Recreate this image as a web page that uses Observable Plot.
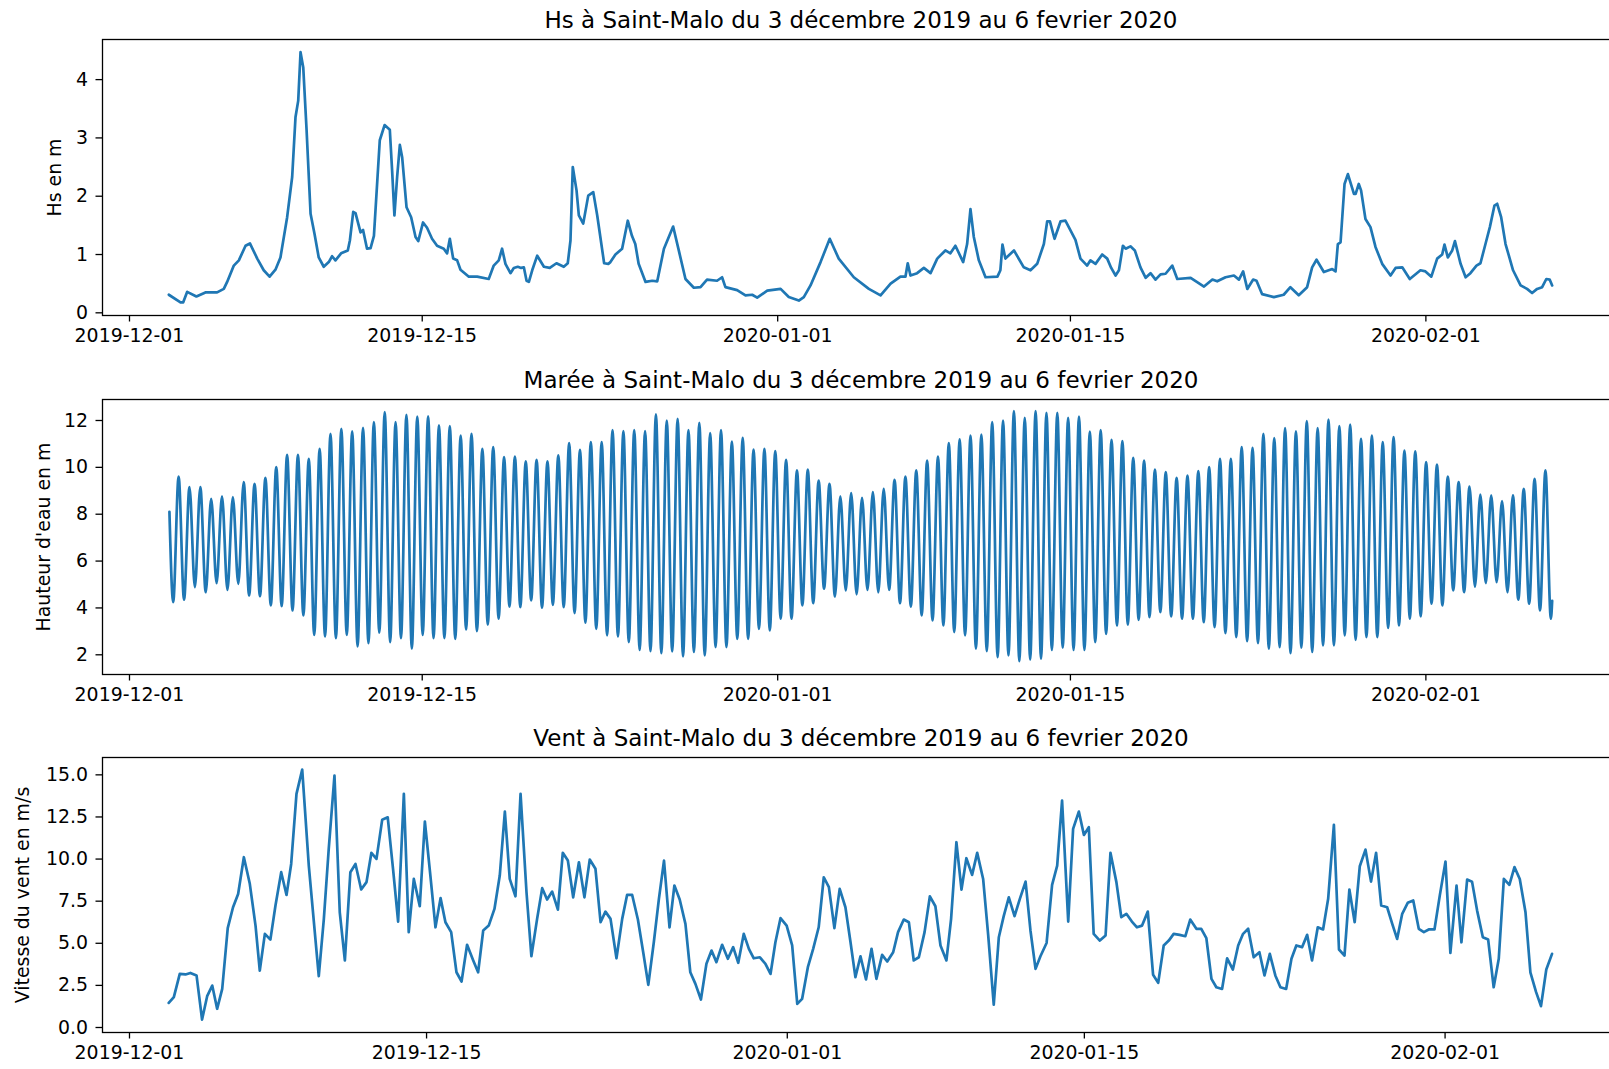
<!DOCTYPE html>
<html>
<head>
<meta charset="utf-8">
<script src="https://cdn.jsdelivr.net/npm/d3@7"></script>
<script src="https://cdn.jsdelivr.net/npm/@observablehq/plot@0.6"></script>
<style>
  html, body { margin: 0; padding: 0; background: #ffffff; overflow: hidden; }
  #root { position: relative; width: 1609px; height: 1069px; overflow: hidden; background: #ffffff; }
  #root > svg { position: absolute; left: 0; max-width: none !important; }
</style>
</head>
<body>
<div id="root"></div>
<script>
// ---------------- DATA (days counted from 2019-12-01 00:00 UTC) ----------------
const titles = [
  "Hs à Saint-Malo du 3 décembre 2019 au 6 fevrier 2020",
  "Marée à Saint-Malo du 3 décembre 2019 au 6 fevrier 2020",
  "Vent à Saint-Malo du 3 décembre 2019 au 6 fevrier 2020"
];
const yLabels = ["Hs en m", "Hauteur d'eau en m", "Vitesse du vent en m/s"];
const xTickLabels = ["2019-12-01", "2019-12-15", "2020-01-01", "2020-01-15", "2020-02-01"];
const hsTicks = [0, 1, 2, 3, 4];
const tideTicks = [2, 4, 6, 8, 10, 12];
const windTicks = [0, 2.5, 5, 7.5, 10, 12.5, 15];

// Significant wave height (m)
const hsDays = [1.88,2.44,2.57,2.76,3.2,3.63,4.19,4.51,4.67,4.99,5.23,5.55,5.76,6.11,6.42,6.70,6.98,7.22,7.54,7.78,7.94,8.07,8.18,8.31,8.47,8.66,8.85,9.05,9.29,9.53,9.69,9.85,10.12,10.44,10.54,10.70,10.81,11.05,11.17,11.36,11.53,11.69,11.97,12.2,12.45,12.56,12.67,12.80,12.93,13.04,13.25,13.47,13.68,13.81,14.04,14.23,14.47,14.71,15.03,15.19,15.32,15.48,15.67,15.83,16.23,16.63,17.18,17.42,17.66,17.82,17.98,18.22,18.38,18.57,18.73,18.86,18.99,19.10,19.26,19.50,19.82,20.10,20.42,20.77,20.96,21.09,21.20,21.38,21.49,21.70,21.94,22.18,22.37,22.70,22.90,23.0,23.24,23.56,23.83,24.03,24.19,24.35,24.68,25.0,25.24,25.56,26.0,26.27,26.59,26.99,27.31,27.62,28.10,28.34,28.5,29.06,29.46,29.78,30.02,30.5,31.14,31.53,32.01,32.25,32.57,33.05,33.49,33.92,34.64,35.36,35.92,36.4,36.87,37.11,37.22,37.35,37.67,37.99,38.31,38.63,39.02,39.26,39.5,39.87,40.06,40.22,40.38,40.62,40.94,41.51,41.65,41.75,41.89,42.3,42.77,43.09,43.41,43.73,43.89,44.02,44.24,44.53,44.76,45.24,45.48,45.8,45.96,46.2,46.52,46.76,46.95,47.16,47.32,47.51,47.64,47.87,48.08,48.35,48.6,48.83,49.07,49.31,49.55,49.87,50.11,50.75,51.39,51.79,52.02,52.42,52.82,53.06,53.26,53.46,53.74,53.9,54.17,54.73,55.2,55.52,55.92,56.32,56.56,56.77,57.12,57.52,57.68,57.79,57.92,58.11,58.27,58.56,58.64,58.79,58.9,59.11,59.35,59.59,59.91,60.31,60.55,60.87,61.23,61.74,61.98,62.26,62.54,62.78,62.89,63.05,63.26,63.39,63.66,63.9,64.13,64.42,64.61,64.85,65.06,65.28,65.41,65.6,65.81,66.17,66.53,66.84,67.08,67.32,67.56,67.76,67.92,68.04];
const hsValues = [0.31,0.18,0.18,0.36,0.28,0.35,0.35,0.41,0.53,0.81,0.90,1.15,1.19,0.93,0.73,0.62,0.74,0.95,1.64,2.33,3.36,3.64,4.47,4.21,3.13,1.70,1.35,0.95,0.79,0.87,0.97,0.90,1.02,1.07,1.24,1.73,1.71,1.38,1.42,1.10,1.11,1.32,2.96,3.22,3.14,2.44,1.67,2.33,2.88,2.67,1.81,1.64,1.30,1.23,1.55,1.46,1.27,1.15,1.10,1.02,1.27,0.93,0.90,0.74,0.62,0.62,0.58,0.81,0.90,1.10,0.84,0.68,0.77,0.79,0.77,0.78,0.55,0.53,0.73,0.98,0.79,0.77,0.85,0.79,0.85,1.24,2.50,2.10,1.67,1.53,2.01,2.07,1.67,0.85,0.84,0.87,1.0,1.10,1.58,1.32,1.18,0.84,0.53,0.55,0.54,1.10,1.48,1.07,0.58,0.43,0.44,0.57,0.55,0.61,0.44,0.39,0.30,0.31,0.26,0.38,0.41,0.27,0.21,0.27,0.47,0.87,1.27,0.93,0.61,0.41,0.30,0.50,0.62,0.62,0.85,0.64,0.68,0.77,0.68,0.93,1.07,1.02,1.15,0.87,1.18,1.78,1.30,0.90,0.61,0.62,0.73,1.17,0.93,1.07,0.78,0.73,0.84,1.18,1.57,1.57,1.27,1.57,1.58,1.25,0.93,0.81,0.90,0.84,1.0,0.93,0.77,0.64,0.73,1.15,1.10,1.14,1.07,0.78,0.60,0.68,0.57,0.66,0.67,0.81,0.58,0.60,0.45,0.57,0.54,0.61,0.64,0.57,0.71,0.41,0.57,0.55,0.32,0.27,0.31,0.44,0.30,0.44,0.78,0.91,0.70,0.75,0.71,1.18,1.21,2.21,2.38,2.04,2.04,2.21,2.10,1.61,1.47,1.13,0.84,0.64,0.77,0.78,0.58,0.73,0.71,0.62,0.93,1.0,1.17,0.95,1.07,1.23,0.84,0.61,0.68,0.81,0.85,1.18,1.47,1.84,1.87,1.64,1.18,0.73,0.47,0.41,0.34,0.41,0.44,0.58,0.57,0.47];

// Tide: successive low waters and high waters (m), alternating low, high, low, ...
const tideStartDay = 1.91, tideStartValue = 8.1;
const tideFirstLowDay = 2.09, tideHalfStepDays = 0.2594;
const tideEndDay = 68.04, tideEndValue = 4.3;
const tideLows = [4.25,4.35,4.89,4.67,5.06,4.77,5.03,4.53,4.50,4.11,4.08,3.89,3.68,2.85,2.78,2.71,2.85,2.36,2.50,2.94,2.54,2.71,2.26,2.85,2.71,2.71,2.68,3.08,3.01,3.29,3.54,4.06,4.03,4.32,4.01,4.13,4.03,3.78,3.37,3.11,2.83,
  2.78,2.54,2.21,2.16,2.07,2.14,1.93,2.12,1.97,2.33,2.33,2.68,2.68,3.11,3.04,3.54,3.54,4.11,4.20,4.82,4.49,4.75,4.58,4.77,4.67,4.77,4.20,4.06,3.68,3.47,3.25,2.97,2.83,2.26,2.16,1.90,1.97,1.73,1.79,1.83,2.21,2.30,2.21,2.21,2.54,2.89,
  3.25,3.29,3.49,3.61,3.82,3.64,3.54,3.54,3.39,3.18,2.92,2.75,2.58,2.50,2.26,2.33,2.07,2.30,2.12,2.40,2.40,2.83,2.64,2.75,2.75,3.15,3.25,3.54,3.64,4.18,4.11,4.75,4.67,4.91,5.06,5.10,4.67,4.35,4.18,3.89,3.54];
const tideHighs = [9.61,9.16,9.16,8.66,8.76,8.73,9.37,9.30,9.55,10.01,10.53,10.53,10.36,10.79,11.43,11.64,11.54,11.69,11.93,12.36,11.93,12.24,12.17,12.18,11.79,11.76,11.36,11.43,10.79,10.86,10.44,10.46,10.26,10.32,10.26,10.51,11.03,10.75,11.08,11.08,
  11.59,11.55,11.59,11.55,12.26,12.00,12.07,11.59,11.90,11.46,11.59,11.10,11.26,10.76,10.79,10.69,10.32,9.87,9.90,9.44,9.30,8.76,8.90,8.70,8.94,9.08,9.47,9.61,9.87,10.29,10.46,11.03,11.19,11.36,11.40,11.93,12.00,12.40,12.11,12.40,12.33,12.33,12.11,12.17,11.53,11.59,11.17,
  11.12,10.41,10.29,9.90,9.80,9.55,9.65,9.84,10.01,10.36,10.36,10.86,10.83,11.43,11.25,11.67,11.54,11.97,11.67,12.04,11.76,11.82,11.22,11.36,11.08,11.29,10.72,10.68,10.22,10.12,9.61,9.37,9.18,8.84,8.80,8.56,8.80,9.08,9.51,9.87];

// Wind speed (m/s)
const windDays = [1.85,2.09,2.37,2.64,2.87,3.16,3.42,3.66,3.90,4.13,4.37,4.63,4.88,5.12,5.39,5.67,5.94,6.14,6.38,6.64,6.88,7.15,7.40,7.62,7.87,8.14,8.45,8.92,9.16,9.39,9.66,9.91,10.15,10.41,10.65,10.92,11.17,11.40,11.64,11.91,12.17,12.42,12.66,12.93,13.16,13.40,13.68,13.92,14.18,14.42,14.66,14.89,15.16,15.41,15.65,15.91,16.20,16.43,16.67,16.93,17.20,17.45,17.69,17.92,18.19,18.43,18.71,18.94,19.21,19.45,19.68,19.92,20.19,20.42,20.66,20.91,21.18,21.44,21.69,21.96,22.20,22.43,22.67,22.95,23.22,23.45,23.69,23.96,24.21,24.45,24.71,24.95,25.19,25.45,25.68,25.93,26.20,26.43,26.67,26.93,27.19,27.43,27.66,27.93,28.20,28.45,28.69,28.95,29.19,29.42,29.71,29.97,30.21,30.44,30.68,30.97,31.23,31.47,31.70,31.97,32.22,32.48,32.72,32.96,33.22,33.47,33.74,33.98,34.21,34.45,34.71,34.97,35.20,35.47,35.71,35.99,36.22,36.49,36.73,36.96,37.20,37.47,37.72,37.98,38.22,38.50,38.72,38.97,39.21,39.44,39.71,39.95,40.23,40.47,40.73,40.97,41.20,41.44,41.71,41.96,42.23,42.46,42.70,42.93,43.22,43.48,43.72,43.95,44.24,44.47,44.74,44.98,45.21,45.44,45.73,46.00,46.23,46.51,46.74,46.98,47.24,47.48,47.72,47.99,48.24,48.48,48.74,48.98,49.21,49.49,49.76,49.99,50.28,50.51,50.75,50.99,51.22,51.49,51.73,52.00,52.25,52.48,52.72,52.98,53.25,53.49,53.74,54.00,54.24,54.51,54.76,54.99,55.26,55.50,55.73,56.00,56.25,56.49,56.76,57.00,57.26,57.49,57.74,57.98,58.25,58.51,58.75,58.99,59.27,59.51,59.74,59.98,60.24,60.50,60.76,61.00,61.23,61.50,61.75,62.02,62.25,62.54,62.77,63.04,63.27,63.51,63.78,64.03,64.29,64.53,64.77,65.03,65.27,65.52,65.79,66.02,66.29,66.52,66.77,67.04];
const windValues = [1.46,1.80,3.18,3.15,3.24,3.09,0.47,1.86,2.49,1.11,2.29,5.90,7.14,7.93,10.11,8.53,6.05,3.38,5.56,5.22,7.24,9.22,7.87,9.71,13.87,15.31,9.61,3.05,6.45,10.60,14.96,6.84,3.98,9.22,9.71,8.19,8.63,10.37,10.01,12.34,12.48,9.42,6.29,13.87,5.66,8.82,7.20,12.23,9.02,5.95,7.68,6.25,5.66,3.28,2.73,4.91,3.98,3.28,5.76,6.05,7.04,9.02,12.82,8.82,7.79,13.87,8.03,4.23,6.45,8.27,7.60,8.07,7.00,10.37,9.91,7.73,9.81,7.73,9.97,9.42,6.25,6.88,6.45,4.11,6.45,7.87,7.87,6.41,4.47,2.53,5.06,7.64,9.91,5.95,8.43,7.60,6.15,3.28,2.59,1.66,3.78,4.57,3.88,4.91,4.08,4.77,3.84,5.56,4.67,4.11,4.17,3.78,3.18,5.06,6.49,6.05,4.87,1.40,1.70,3.58,4.67,5.95,8.92,8.33,5.90,8.23,7.14,5.06,2.99,4.23,2.85,4.67,2.89,4.31,3.92,4.47,5.66,6.41,6.25,3.98,4.17,5.66,7.79,7.20,4.87,3.98,6.45,11.0,8.19,10.05,9.06,10.37,8.82,5.46,1.35,5.36,6.61,7.73,6.61,7.64,8.66,5.76,3.48,4.23,5.02,8.47,9.61,13.47,6.29,11.79,12.82,11.43,11.89,5.56,5.16,5.46,10.37,8.63,6.55,6.75,6.29,5.95,6.05,6.88,3.13,2.65,4.87,5.16,5.56,5.50,5.42,6.41,5.86,5.86,5.30,2.89,2.39,2.29,4.11,3.44,4.87,5.56,5.86,4.17,4.47,3.09,4.37,3.09,2.39,2.29,4.08,4.87,4.77,5.50,3.98,5.95,5.82,7.64,12.03,4.63,4.27,8.19,6.25,9.57,10.56,8.66,10.37,7.24,7.14,6.15,5.26,6.75,7.40,7.54,5.86,5.66,5.82,5.82,7.83,9.85,4.43,8.43,5.06,8.78,8.66,6.94,5.36,5.22,2.39,4.08,8.82,8.47,9.52,8.82,6.84,3.28,2.10,1.27,3.44,4.37];

// ---------------- BUILD ----------------
const DAY = 864e5;
const base = Date.UTC(2019, 11, 1);
const toDate = d => new Date(base + d * DAY);
const xTicks = xTickLabels.map(s => new Date(s + "T00:00:00Z"));

const hsData = hsDays.map((d, i) => ({date: toDate(d), value: hsValues[i]}));
const windData = windDays.map((d, i) => ({date: toDate(d), value: windValues[i]}));
const tideData = [{date: toDate(tideStartDay), value: tideStartValue}];
for (let i = 0; i < tideLows.length; i++) {
  tideData.push({date: toDate(tideFirstLowDay + 2 * i * tideHalfStepDays), value: tideLows[i]});
  if (i < tideHighs.length) tideData.push({date: toDate(tideFirstLowDay + (2 * i + 1) * tideHalfStepDays), value: tideHighs[i]});
}
tideData.push({date: toDate(tideEndDay), value: tideEndValue});

const FONT = "DejaVu Sans, Liberation Sans, sans-serif";
const TICK_FS = 18.9, TITLE_FS = 23;
const root = document.getElementById("root");

function panel({data, xDomainDays, yDomain, yTicks, yFormat, title, ylabel, ylabelTop, top, marginTop, plotH, marginBottom, curve}) {
  const svg = Plot.plot({
    width: 1620,
    height: marginTop + plotH + marginBottom,
    marginLeft: 102,
    marginRight: 1,
    marginTop,
    marginBottom,
    style: {fontFamily: FONT, fontSize: TICK_FS + "px", color: "#000", background: "transparent", overflow: "visible", maxWidth: "none"},
    x: {type: "utc", domain: xDomainDays.map(toDate)},
    y: {domain: yDomain},
    marks: [
      Plot.line(data, {x: "date", y: "value", stroke: "#1f77b4", strokeWidth: 2.7, curve: curve || "linear", strokeLinejoin: "round"}),
      Plot.frame({stroke: "#000", strokeWidth: 1.3}),
      Plot.axisX({ticks: xTicks, tickFormat: d3.utcFormat("%Y-%m-%d"), tickSize: 6.5, tickPadding: 7, label: null, strokeWidth: 1.3}),
      Plot.axisY({ticks: yTicks, tickFormat: yFormat, tickSize: 6.5, tickPadding: 8, label: null, strokeWidth: 1.3}),
      Plot.text([title], {text: d => d, frameAnchor: "top", dy: -12, lineAnchor: "bottom", textAnchor: "middle", fontSize: TITLE_FS}),
      Plot.text([ylabel], {text: d => d, frameAnchor: "left", dx: ylabelTop - 102, rotate: -90, lineAnchor: "top", textAnchor: "middle", fontSize: TICK_FS})
    ]
  });
  svg.style.top = top + "px";
  svg.style.maxWidth = "none";
  root.appendChild(svg);
}

panel({
  data: hsData, xDomainDays: [-1.291, 71.26], yDomain: [-0.046, 4.688], yTicks: hsTicks, yFormat: d3.format("d"),
  title: titles[0], ylabel: yLabels[0], ylabelTop: 46.7, top: 0, marginTop: 39, plotH: 276, marginBottom: 40
});
panel({
  data: tideData, xDomainDays: [-1.291, 71.26], yDomain: [1.159, 12.896], yTicks: tideTicks, yFormat: d3.format("d"),
  title: titles[1], ylabel: yLabels[1], ylabelTop: 35.6, top: 359, marginTop: 40, plotH: 275, marginBottom: 40, curve: "monotone-x"
});
panel({
  data: windData, xDomainDays: [-1.272, 70.22], yDomain: [-0.297, 16.03], yTicks: windTicks, yFormat: d3.format(".1f"),
  title: titles[2], ylabel: yLabels[2], ylabelTop: 15.1, top: 717, marginTop: 40, plotH: 275, marginBottom: 37
});
</script>
</body>
</html>
